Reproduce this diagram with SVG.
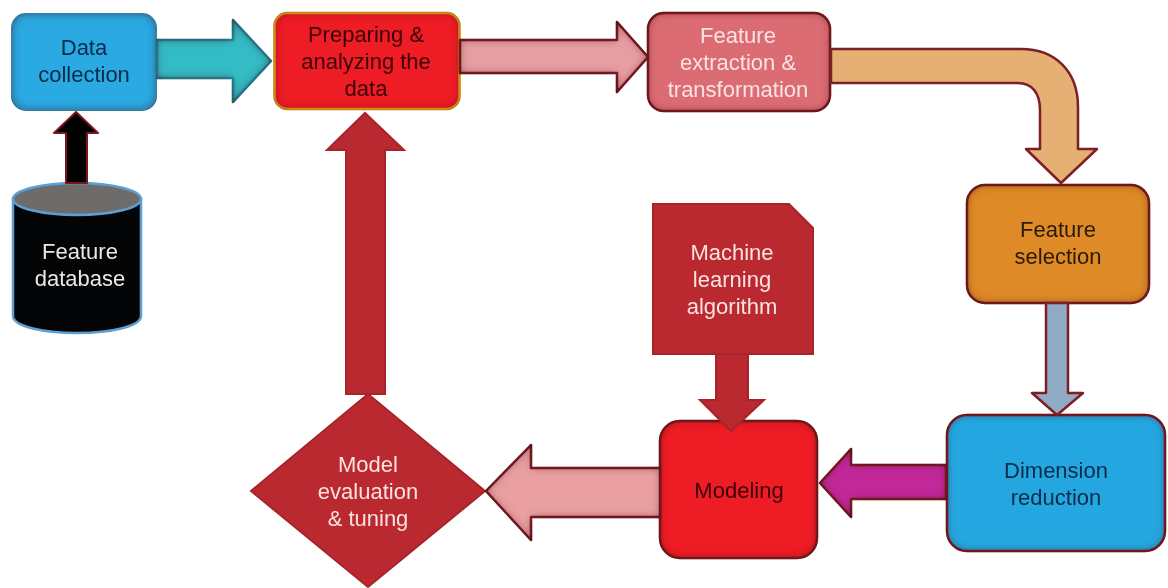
<svg xmlns="http://www.w3.org/2000/svg" width="1168" height="588" viewBox="0 0 1168 588">
<defs>
<filter id="soft" x="-5%" y="-5%" width="110%" height="110%" color-interpolation-filters="sRGB"><feGaussianBlur stdDeviation="0.7"/></filter>
<filter id="softtext" x="-5%" y="-20%" width="110%" height="140%" color-interpolation-filters="sRGB"><feGaussianBlur stdDeviation="0.45"/></filter>
<filter id="bevel" x="-5%" y="-5%" width="110%" height="110%" color-interpolation-filters="sRGB">
<feGaussianBlur in="SourceAlpha" stdDeviation="5" result="b"/>
<feComposite in="SourceAlpha" in2="b" operator="out" result="rim"/>
<feFlood flood-color="#400000" flood-opacity="0.55"/>
<feComposite in2="rim" operator="in" result="edge"/>
<feMerge result="m"><feMergeNode in="SourceGraphic"/><feMergeNode in="edge"/></feMerge>
<feGaussianBlur in="m" stdDeviation="0.7"/>
</filter>
</defs>
<style>
text{font-family:"Liberation Sans",Arial,sans-serif;font-size:22px;text-anchor:middle;filter:url(#softtext)}
.d{fill:#0a2c48}.k{fill:#3c0306}.w{fill:#fbe3e1}.o{fill:#2a1a08}
.s{stroke:#7c1f27;stroke-width:2.500;stroke-linejoin:round}
.b{filter:url(#bevel)}.p{filter:url(#soft)}
.r{fill:#b9292f;stroke:#a8242b;stroke-width:2}
</style>
<rect width="1168" height="588" fill="#fff"/>
<g id="nodes">
<g id="data-collection"><rect class="b" x="11" y="13" width="146" height="98" rx="15" fill="#2aa9e2"/><text class="d" x="84" y="55">Data</text><text class="d" x="84" y="82">collection</text></g>
<g id="feature-database"><g class="p"><path d="M13 199V316C13 326 42 333 77 333S141 326 141 316V199Z" fill="#030405" stroke="#5b9fd4" stroke-width="2.500"/><ellipse cx="77" cy="199" rx="64" ry="16" fill="#6d6c6b" stroke="#5b9fd4" stroke-width="2.500"/></g><text x="80" y="259" fill="#e8e8e8">Feature</text><text x="80" y="286" fill="#e8e8e8">database</text></g>
<g id="preparing"><rect class="b" x="274.500" y="13" width="185" height="96" rx="13" fill="#ee1c25" stroke="#f2b01d" stroke-width="2.500"/><text class="k" x="366" y="42">Preparing &amp;</text><text class="k" x="366" y="69">analyzing the</text><text class="k" x="366" y="96">data</text></g>
<g id="feature-extraction"><rect class="s b" x="648" y="13" width="182" height="98" rx="16" fill="#dc6c73"/><text class="w" x="738" y="43">Feature</text><text class="w" x="738" y="70">extraction &amp;</text><text class="w" x="738" y="97">transformation</text></g>
<g id="feature-selection"><rect class="s b" x="967" y="185" width="182" height="118" rx="18" fill="#dd8a27"/><text class="o" x="1058" y="237">Feature</text><text class="o" x="1058" y="264">selection</text></g>
<g id="ml-algorithm"><path class="r p" d="M653 204H789L813 228V354H653Z"/><text class="w" x="732" y="260">Machine</text><text class="w" x="732" y="287">learning</text><text class="w" x="732" y="314">algorithm</text></g>
<g id="dimension-reduction"><rect class="s b" x="947" y="415" width="218" height="136" rx="20" fill="#24a7e1"/><text class="d" x="1056" y="478">Dimension</text><text class="d" x="1056" y="505">reduction</text></g>
<g id="modeling"><rect class="s b" x="660" y="421" width="157" height="137" rx="20" fill="#ee1c25"/><text class="k" x="739" y="498">Modeling</text></g>
<g id="model-evaluation"><path class="r p" d="M368 394L485 491L368 587L251 491Z"/><text class="w" x="368" y="472">Model</text><text class="w" x="368" y="499">evaluation</text><text class="w" x="368" y="526">&amp; tuning</text></g>
</g>
<g id="connectors">
<path class="b" d="M157 40H233V20L271 61L233 102V78H157Z" fill="#33bcc5" stroke="#1d93ad" stroke-width="2.500" stroke-linejoin="round"/>
<path class="p" d="M66 183V133H54L76 112L98 133H87V183Z" fill="#000" stroke="#7c1420" stroke-width="2" stroke-linejoin="round"/>
<path class="s b" d="M460 40H617V22L648 57L617 92V73H460Z" fill="#e79ea2"/>
<path class="s p" d="M831 49H1021C1056 49 1078 72 1078 107V149H1097L1061 183L1026 149H1040V110C1040 93 1032 83 1018 83H831Z" fill="#e6af74"/>
<path class="s p" d="M1046 303V393H1032L1057 415L1083 393H1068V303Z" fill="#8fabc6"/>
<path class="s b" d="M946 465H851V449L820 483L851 517V499H946Z" fill="#c3289a"/>
<path class="s b" d="M660 468H531V445L486 491L531 540V517H660Z" fill="#eaa0a3"/>
<path class="r p" d="M716 354V400H700L731 431L764 400H748V354Z"/>
<path class="r p" d="M346 394V150H327L365 113L404 150H385V394Z"/>
</g>
</svg>
